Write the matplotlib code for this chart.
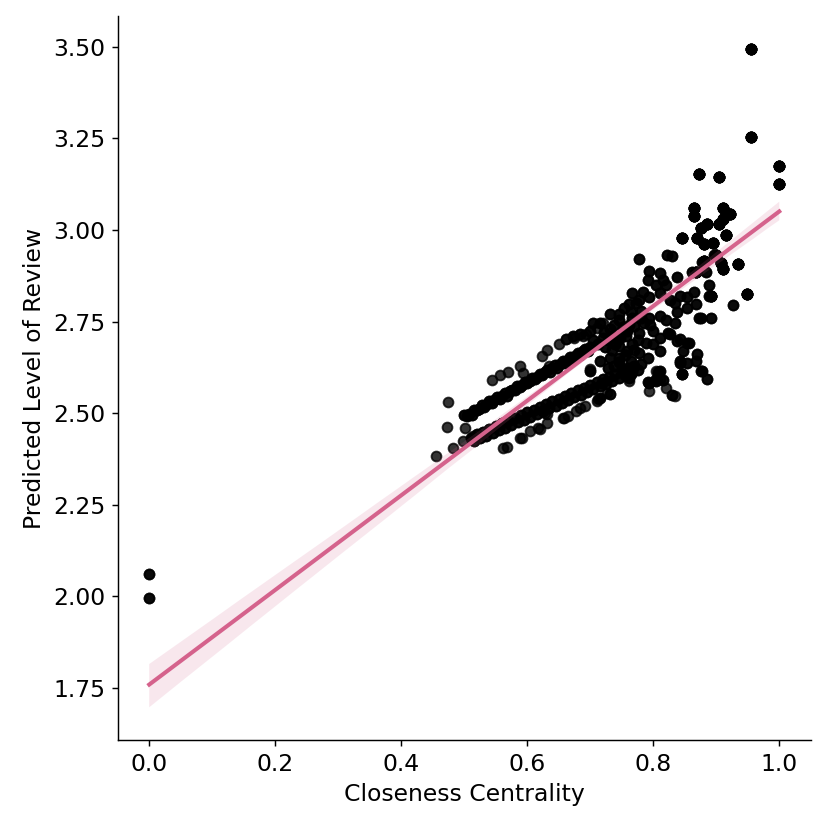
#!/usr/bin/env python3
# Closeness centrality vs predicted level of review, regression with 95% CI

import numpy as np
import pandas as pd
import seaborn as sns
from matplotlib import pyplot as plt

# isolated nodes (closeness 0)
isolated_x = [0.0, 0.0]
isolated_y = [2.062, 1.995]

# upper dense band
band_a_x = [0.500, 0.504, 0.508, 0.512, 0.516, 0.520, 0.524, 0.528, 0.532, 0.536,
            0.540, 0.544, 0.548, 0.552, 0.556, 0.560, 0.564, 0.568, 0.572, 0.576,
            0.580, 0.584, 0.588, 0.592, 0.596, 0.600, 0.604, 0.608, 0.612, 0.616,
            0.620, 0.624, 0.628, 0.632, 0.636, 0.640, 0.644, 0.648, 0.652, 0.656,
            0.660, 0.664, 0.668, 0.672, 0.676, 0.680, 0.684, 0.688, 0.692, 0.696, 0.700]
band_a_y = [2.494, 2.491, 2.499, 2.496, 2.508, 2.509, 2.511, 2.522, 2.517, 2.524,
            2.532, 2.529, 2.536, 2.544, 2.540, 2.547, 2.555, 2.548, 2.561, 2.562,
            2.563, 2.574, 2.571, 2.577, 2.585, 2.582, 2.589, 2.597, 2.592, 2.600,
            2.608, 2.604, 2.612, 2.619, 2.613, 2.623, 2.631, 2.624, 2.634, 2.642,
            2.637, 2.646, 2.654, 2.650, 2.657, 2.665, 2.659, 2.669, 2.676, 2.670, 2.680]

# lower dense band
band_b_x = [0.510, 0.515, 0.520, 0.525, 0.530, 0.535, 0.540, 0.545, 0.550, 0.555,
            0.560, 0.565, 0.570, 0.575, 0.580, 0.585, 0.590, 0.595, 0.600, 0.605,
            0.610, 0.615, 0.620, 0.625, 0.630, 0.635, 0.640, 0.645, 0.650, 0.655,
            0.660, 0.665, 0.670, 0.675, 0.680, 0.685, 0.690, 0.695, 0.700, 0.705,
            0.710, 0.715, 0.720, 0.725, 0.730, 0.735, 0.740, 0.745, 0.750, 0.755,
            0.760, 0.765, 0.770, 0.775, 0.780]
band_b_y = [2.432, 2.424, 2.442, 2.431, 2.449, 2.439, 2.458, 2.446, 2.464, 2.453,
            2.474, 2.460, 2.480, 2.467, 2.488, 2.476, 2.496, 2.482, 2.503, 2.490,
            2.510, 2.497, 2.518, 2.506, 2.524, 2.513, 2.532, 2.520, 2.540, 2.528,
            2.548, 2.535, 2.555, 2.543, 2.563, 2.550, 2.570, 2.558, 2.578, 2.565,
            2.585, 2.573, 2.593, 2.580, 2.600, 2.588, 2.608, 2.595, 2.615, 2.603,
            2.623, 2.610, 2.630, 2.618, 2.634]

# sparse points below the lower band
low_x = [0.455, 0.482, 0.472, 0.474, 0.501, 0.498, 0.514, 0.561, 0.568, 0.591,
         0.604, 0.620, 0.617, 0.628, 0.631, 0.656, 0.659, 0.678, 0.691, 0.710,
         0.712, 0.727, 0.762, 0.588, 0.632, 0.664, 0.683, 0.794, 0.810, 0.821,
         0.834, 0.805]
low_y = [2.382, 2.404, 2.461, 2.530, 2.459, 2.423, 2.437, 2.404, 2.407, 2.431,
         2.451, 2.456, 2.459, 2.500, 2.497, 2.486, 2.486, 2.505, 2.519, 2.533,
         2.538, 2.555, 2.588, 2.431, 2.473, 2.492, 2.514, 2.560, 2.593, 2.569,
         2.547, 2.615]

# sparse points above the upper band
top_x = [0.544, 0.556, 0.569, 0.588, 0.593, 0.623, 0.631, 0.651, 0.635, 0.675,
         0.689, 0.694, 0.711, 0.721, 0.699]
top_y = [2.591, 2.604, 2.613, 2.629, 2.610, 2.657, 2.673, 2.690, 2.629, 2.706,
         2.712, 2.717, 2.733, 2.745, 2.621]

# main cloud
cloud_x = [0.777, 0.822, 0.830, 0.794, 0.810, 0.815, 0.837, 0.791, 0.805, 0.821,
           0.783, 0.767, 0.794, 0.810, 0.778, 0.762, 0.754, 0.826, 0.834, 0.842,
           0.853, 0.865, 0.868, 0.889, 0.889, 0.897, 0.878, 0.862, 0.884, 0.838,
           0.853, 0.873, 0.892, 0.781, 0.794, 0.810, 0.821, 0.834, 0.767, 0.746,
           0.731, 0.715, 0.704, 0.699, 0.683, 0.672, 0.662, 0.731, 0.758, 0.778,
           0.799, 0.810, 0.826, 0.838, 0.853, 0.789, 0.767, 0.746, 0.758, 0.778,
           0.791, 0.765, 0.746, 0.731, 0.715, 0.810, 0.842, 0.854, 0.868, 0.845,
           0.878, 0.886, 0.810, 0.805, 0.794, 0.765, 0.719, 0.699, 0.829, 0.731,
           0.715, 0.926, 0.876, 0.842, 0.857, 0.848, 0.870, 0.843, 0.876, 0.846,
           0.807, 0.792, 0.815, 0.804, 0.799, 0.824, 0.762, 0.767, 0.751, 0.704,
           0.712, 0.720, 0.728, 0.736, 0.742, 0.724, 0.734, 0.740, 0.748, 0.756,
           0.752, 0.762, 0.770, 0.738, 0.722, 0.745, 0.738, 0.728, 0.755, 0.770,
           0.775, 0.785, 0.795, 0.780, 0.765, 0.772, 0.745]
cloud_y = [2.920, 2.931, 2.929, 2.887, 2.882, 2.863, 2.871, 2.863, 2.849, 2.849,
           2.830, 2.827, 2.816, 2.827, 2.808, 2.799, 2.788, 2.808, 2.802, 2.821,
           2.816, 2.830, 2.799, 2.849, 2.821, 2.931, 2.912, 2.885, 2.885, 2.775,
           2.786, 2.761, 2.761, 2.780, 2.761, 2.766, 2.753, 2.747, 2.761, 2.753,
           2.772, 2.747, 2.745, 2.725, 2.717, 2.712, 2.703, 2.731, 2.725, 2.720,
           2.725, 2.706, 2.717, 2.698, 2.692, 2.692, 2.690, 2.684, 2.670, 2.665,
           2.651, 2.643, 2.651, 2.651, 2.643, 2.670, 2.643, 2.637, 2.643, 2.607,
           2.615, 2.593, 2.615, 2.593, 2.582, 2.607, 2.582, 2.615, 2.549, 2.552,
           2.541, 2.794, 2.761, 2.703, 2.692, 2.670, 2.662, 2.637, 2.615, 2.607,
           2.613, 2.585, 2.591, 2.588, 2.690, 2.720, 2.596, 2.615, 2.623, 2.700,
           2.690, 2.705, 2.700, 2.712, 2.700, 2.680, 2.672, 2.690, 2.705, 2.712,
           2.735, 2.742, 2.738, 2.742, 2.722, 2.640, 2.628, 2.622, 2.660, 2.672,
           2.700, 2.745, 2.740, 2.760, 2.775, 2.800, 2.770]

# upper right, high closeness
high_x = [0.865, 0.911, 0.865, 0.922, 0.910, 0.905, 0.886, 0.875, 0.845, 0.870,
          0.916, 0.881, 0.895, 0.880, 0.899, 0.908, 0.910, 0.935, 0.868, 0.891,
          0.949, 0.872, 0.905, 0.955, 0.955, 1.000, 1.000]
high_y = [3.060, 3.060, 3.038, 3.044, 3.030, 3.016, 3.016, 3.005, 2.978, 2.978,
          2.986, 2.962, 2.964, 2.915, 2.931, 2.909, 2.893, 2.907, 2.885, 2.821,
          2.824, 3.154, 3.146, 3.495, 3.255, 3.176, 3.126]

# how many times each group of nodes occurs (overlapping markers)
groups = [
    (isolated_x, isolated_y, 2),
    (band_a_x, band_a_y, 2),
    (band_b_x, band_b_y, 2),
    (low_x, low_y, 1),
    (top_x, top_y, 1),
    (cloud_x, cloud_y, 2),
    (high_x, high_y, 7),
]
df = pd.concat([pd.DataFrame({"closeness": np.repeat(gx, n), "predicted": np.repeat(gy, n)})
                for gx, gy, n in groups], ignore_index=True)

lineColor = "#d5628c"
plt.rcParams["font.size"] = 13

fig = plt.figure(figsize=(829 / 130, 828 / 130), dpi=130)
ax = fig.add_axes([0.142, 0.106, 0.836, 0.875])
sns.regplot(data=df, x="closeness", y="predicted", ax=ax, seed=0,
            scatter_kws={"color": "black", "alpha": 0.8, "s": 30},
            line_kws={"color": lineColor})
ax.spines["top"].set_visible(False)
ax.spines["right"].set_visible(False)
ax.set_xlabel("Closeness Centrality")
ax.set_ylabel("Predicted Level of Review")

fig.savefig("out.png", dpi=130)
plt.close(fig)
